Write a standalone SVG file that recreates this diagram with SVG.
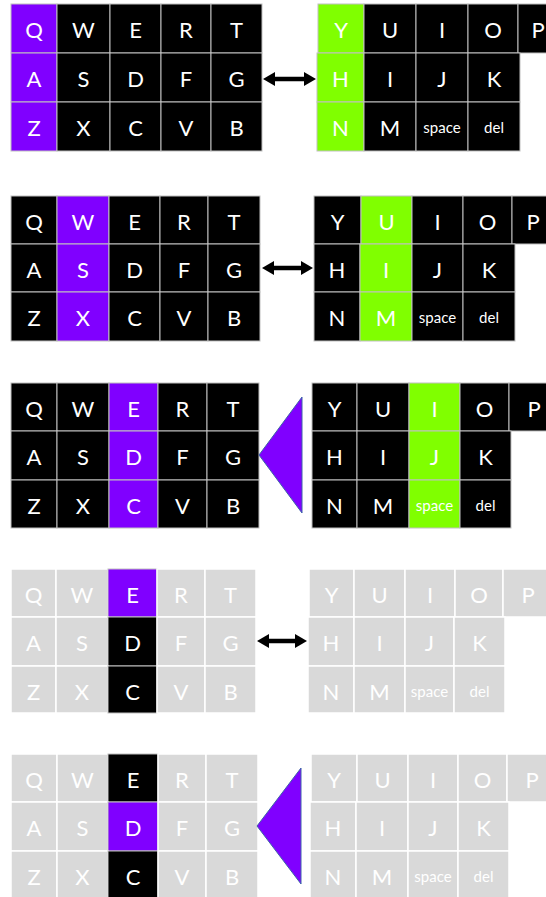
<svg xmlns="http://www.w3.org/2000/svg" width="546" height="897" viewBox="0 0 546 897">
<style>
rect{stroke:#c0c0c0;stroke-width:1}
.b{fill:#000}
.p{fill:#8000ff}
.g{fill:#80ff00}
.y{fill:#d9d9d9;stroke:#fff;stroke-width:1.5}
text{font-family:Lato,'Open Sans',sans-serif;font-size:22px;fill:#fff;text-anchor:middle}
text.s{font-size:15px}
.arr{stroke:#000;stroke-width:4.5;fill:none}
.tri{fill:#8000ff;stroke:#3d64a8;stroke-width:1}
</style>
<defs>
<marker id="ah" viewBox="0 -7 12 14" refX="4" refY="0" markerWidth="12" markerHeight="14" markerUnits="userSpaceOnUse" orient="auto-start-reverse">
<path d="M0,-7 L12,0 L0,7 Z" fill="#000"/>
</marker>
</defs>

<!-- Panel 1 -->
<g id="p1-left">
<g id="p1-Q"><rect class="p" x="11" y="4" width="46" height="49"/><text x="34" y="38">Q</text></g>
<g id="p1-W"><rect class="b" x="57" y="4" width="53" height="49"/><text x="83.5" y="38">W</text></g>
<g id="p1-E"><rect class="b" x="110" y="4" width="51" height="49"/><text x="135.5" y="38">E</text></g>
<g id="p1-R"><rect class="b" x="161" y="4" width="50" height="49"/><text x="186" y="38">R</text></g>
<g id="p1-T"><rect class="b" x="211" y="4" width="51" height="49"/><text x="236.5" y="38">T</text></g>
<g id="p1-A"><rect class="p" x="11" y="53" width="46" height="49"/><text x="34" y="87">A</text></g>
<g id="p1-S"><rect class="b" x="57" y="53" width="53" height="49"/><text x="83.5" y="87">S</text></g>
<g id="p1-D"><rect class="b" x="110" y="53" width="51" height="49"/><text x="135.5" y="87">D</text></g>
<g id="p1-F"><rect class="b" x="161" y="53" width="50" height="49"/><text x="186" y="87">F</text></g>
<g id="p1-G"><rect class="b" x="211" y="53" width="51" height="49"/><text x="236.5" y="87">G</text></g>
<g id="p1-Z"><rect class="p" x="11" y="102" width="46" height="49"/><text x="34" y="136">Z</text></g>
<g id="p1-X"><rect class="b" x="57" y="102" width="53" height="49"/><text x="83.5" y="136">X</text></g>
<g id="p1-C"><rect class="b" x="110" y="102" width="51" height="49"/><text x="135.5" y="136">C</text></g>
<g id="p1-V"><rect class="b" x="161" y="102" width="50" height="49"/><text x="186" y="136">V</text></g>
<g id="p1-B"><rect class="b" x="211" y="102" width="51" height="49"/><text x="236.5" y="136">B</text></g>
</g>
<g id="p1-right">
<g id="p1-Y"><rect class="g" x="318" y="4" width="46" height="49"/><text x="341" y="38">Y</text></g>
<g id="p1-U"><rect class="b" x="364" y="4" width="52" height="49"/><text x="390" y="38">U</text></g>
<g id="p1-I1"><rect class="b" x="416" y="4" width="52" height="49"/><text x="442" y="38">I</text></g>
<g id="p1-O"><rect class="b" x="468" y="4" width="50" height="49"/><text x="493" y="38">O</text></g>
<g id="p1-P"><rect class="b" x="518" y="4" width="52" height="49"/><text x="538" y="38">P</text></g>
<g id="p1-H"><rect class="g" x="317" y="53" width="47" height="49"/><text x="340.5" y="87">H</text></g>
<g id="p1-I2"><rect class="b" x="364" y="53" width="52" height="49"/><text x="390" y="87">I</text></g>
<g id="p1-J"><rect class="b" x="416" y="53" width="52" height="49"/><text x="442" y="87">J</text></g>
<g id="p1-K"><rect class="b" x="468" y="53" width="52" height="49"/><text x="494" y="87">K</text></g>
<g id="p1-N"><rect class="g" x="317" y="102" width="47" height="49"/><text x="340.5" y="136">N</text></g>
<g id="p1-M"><rect class="b" x="364" y="102" width="52" height="49"/><text x="390" y="136">M</text></g>
<g id="p1-space"><rect class="b" x="416" y="102" width="52" height="49"/><text class="s" x="442" y="133">space</text></g>
<g id="p1-del"><rect class="b" x="468" y="102" width="52" height="49"/><text class="s" x="494" y="133">del</text></g>
</g>

<!-- Panel 2 -->
<g id="p2-left">
<g id="p2-Q"><rect class="b" x="11" y="196" width="46" height="48"/><text x="34" y="230">Q</text></g>
<g id="p2-W"><rect class="p" x="57" y="196" width="52" height="48"/><text x="83" y="230">W</text></g>
<g id="p2-E"><rect class="b" x="109" y="196" width="51" height="48"/><text x="134.5" y="230">E</text></g>
<g id="p2-R"><rect class="b" x="160" y="196" width="48" height="48"/><text x="184" y="230">R</text></g>
<g id="p2-T"><rect class="b" x="208" y="196" width="52" height="48"/><text x="234" y="230">T</text></g>
<g id="p2-A"><rect class="b" x="11" y="244" width="46" height="48"/><text x="34" y="278">A</text></g>
<g id="p2-S"><rect class="p" x="57" y="244" width="52" height="48"/><text x="83" y="278">S</text></g>
<g id="p2-D"><rect class="b" x="109" y="244" width="51" height="48"/><text x="134.5" y="278">D</text></g>
<g id="p2-F"><rect class="b" x="160" y="244" width="48" height="48"/><text x="184" y="278">F</text></g>
<g id="p2-G"><rect class="b" x="208" y="244" width="52" height="48"/><text x="234" y="278">G</text></g>
<g id="p2-Z"><rect class="b" x="11" y="292" width="46" height="49"/><text x="34" y="326">Z</text></g>
<g id="p2-X"><rect class="p" x="57" y="292" width="52" height="49"/><text x="83" y="326">X</text></g>
<g id="p2-C"><rect class="b" x="109" y="292" width="51" height="49"/><text x="134.5" y="326">C</text></g>
<g id="p2-V"><rect class="b" x="160" y="292" width="48" height="49"/><text x="184" y="326">V</text></g>
<g id="p2-B"><rect class="b" x="208" y="292" width="52" height="49"/><text x="234" y="326">B</text></g>
</g>
<g id="p2-right">
<g id="p2-Y"><rect class="b" x="314" y="196" width="47" height="48"/><text x="337.5" y="230">Y</text></g>
<g id="p2-U"><rect class="g" x="361" y="196" width="51" height="48"/><text x="386.5" y="230">U</text></g>
<g id="p2-I1"><rect class="b" x="412" y="196" width="51" height="48"/><text x="437.5" y="230">I</text></g>
<g id="p2-O"><rect class="b" x="463" y="196" width="49" height="48"/><text x="487.5" y="230">O</text></g>
<g id="p2-P"><rect class="b" x="512" y="196" width="52" height="48"/><text x="533" y="230">P</text></g>
<g id="p2-H"><rect class="b" x="314" y="244" width="46" height="48"/><text x="337" y="278">H</text></g>
<g id="p2-I2"><rect class="g" x="360" y="244" width="52" height="48"/><text x="386" y="278">I</text></g>
<g id="p2-J"><rect class="b" x="412" y="244" width="51" height="48"/><text x="437.5" y="278">J</text></g>
<g id="p2-K"><rect class="b" x="463" y="244" width="52" height="48"/><text x="489" y="278">K</text></g>
<g id="p2-N"><rect class="b" x="314" y="292" width="46" height="49"/><text x="337" y="326">N</text></g>
<g id="p2-M"><rect class="g" x="360" y="292" width="52" height="49"/><text x="386" y="326">M</text></g>
<g id="p2-space"><rect class="b" x="412" y="292" width="51" height="49"/><text class="s" x="437.5" y="323">space</text></g>
<g id="p2-del"><rect class="b" x="463" y="292" width="52" height="49"/><text class="s" x="489" y="323">del</text></g>
</g>

<!-- Panel 3 -->
<g id="p3-left">
<g id="p3-Q"><rect class="b" x="11" y="383" width="46" height="48"/><text x="34" y="417">Q</text></g>
<g id="p3-W"><rect class="b" x="57" y="383" width="52" height="48"/><text x="83" y="417">W</text></g>
<g id="p3-E"><rect class="p" x="109" y="383" width="49" height="48"/><text x="133.5" y="417">E</text></g>
<g id="p3-R"><rect class="b" x="158" y="383" width="49" height="48"/><text x="182.5" y="417">R</text></g>
<g id="p3-T"><rect class="b" x="207" y="383" width="52" height="48"/><text x="233" y="417">T</text></g>
<g id="p3-A"><rect class="b" x="11" y="431" width="46" height="49"/><text x="34" y="465">A</text></g>
<g id="p3-S"><rect class="b" x="57" y="431" width="52" height="49"/><text x="83" y="465">S</text></g>
<g id="p3-D"><rect class="p" x="109" y="431" width="49" height="49"/><text x="133.5" y="465">D</text></g>
<g id="p3-F"><rect class="b" x="158" y="431" width="49" height="49"/><text x="182.5" y="465">F</text></g>
<g id="p3-G"><rect class="b" x="207" y="431" width="52" height="49"/><text x="233" y="465">G</text></g>
<g id="p3-Z"><rect class="b" x="11" y="480" width="46" height="48"/><text x="34" y="514">Z</text></g>
<g id="p3-X"><rect class="b" x="57" y="480" width="52" height="48"/><text x="83" y="514">X</text></g>
<g id="p3-C"><rect class="p" x="109" y="480" width="49" height="48"/><text x="133.5" y="514">C</text></g>
<g id="p3-V"><rect class="b" x="158" y="480" width="49" height="48"/><text x="182.5" y="514">V</text></g>
<g id="p3-B"><rect class="b" x="207" y="480" width="52" height="48"/><text x="233" y="514">B</text></g>
</g>
<g id="p3-right">
<g id="p3-Y"><rect class="b" x="312" y="383" width="45" height="48"/><text x="334.5" y="417">Y</text></g>
<g id="p3-U"><rect class="b" x="357" y="383" width="52" height="48"/><text x="383" y="417">U</text></g>
<g id="p3-I1"><rect class="g" x="409" y="383" width="51" height="48"/><text x="434.5" y="417">I</text></g>
<g id="p3-O"><rect class="b" x="460" y="383" width="49" height="48"/><text x="484.5" y="417">O</text></g>
<g id="p3-P"><rect class="b" x="509" y="383" width="52" height="48"/><text x="534" y="417">P</text></g>
<g id="p3-H"><rect class="b" x="312" y="431" width="45" height="49"/><text x="334.5" y="465">H</text></g>
<g id="p3-I2"><rect class="b" x="357" y="431" width="52" height="49"/><text x="383" y="465">I</text></g>
<g id="p3-J"><rect class="g" x="409" y="431" width="51" height="49"/><text x="434.5" y="465">J</text></g>
<g id="p3-K"><rect class="b" x="460" y="431" width="51" height="49"/><text x="485.5" y="465">K</text></g>
<g id="p3-N"><rect class="b" x="312" y="480" width="45" height="48"/><text x="334.5" y="514">N</text></g>
<g id="p3-M"><rect class="b" x="357" y="480" width="52" height="48"/><text x="383" y="514">M</text></g>
<g id="p3-space"><rect class="g" x="409" y="480" width="51" height="48"/><text class="s" x="434.5" y="511">space</text></g>
<g id="p3-del"><rect class="b" x="460" y="480" width="51" height="48"/><text class="s" x="485.5" y="511">del</text></g>
</g>

<!-- Panel 4 -->
<g id="p4-left">
<g id="p4-Q"><rect class="y" x="11" y="569" width="45" height="48"/><text x="33.5" y="603">Q</text></g>
<g id="p4-W"><rect class="y" x="56" y="569" width="52" height="48"/><text x="82" y="603">W</text></g>
<g id="p4-E"><rect class="p" x="108" y="569" width="49" height="48"/><text x="132.5" y="603">E</text></g>
<g id="p4-R"><rect class="y" x="157" y="569" width="48" height="48"/><text x="181" y="603">R</text></g>
<g id="p4-T"><rect class="y" x="205" y="569" width="51" height="48"/><text x="230.5" y="603">T</text></g>
<g id="p4-A"><rect class="y" x="11" y="617" width="45" height="49"/><text x="33.5" y="651">A</text></g>
<g id="p4-S"><rect class="y" x="56" y="617" width="52" height="49"/><text x="82" y="651">S</text></g>
<g id="p4-D"><rect class="b" x="108" y="617" width="49" height="49"/><text x="132.5" y="651">D</text></g>
<g id="p4-F"><rect class="y" x="157" y="617" width="48" height="49"/><text x="181" y="651">F</text></g>
<g id="p4-G"><rect class="y" x="205" y="617" width="51" height="49"/><text x="230.5" y="651">G</text></g>
<g id="p4-Z"><rect class="y" x="11" y="666" width="45" height="47"/><text x="33.5" y="700">Z</text></g>
<g id="p4-X"><rect class="y" x="56" y="666" width="52" height="47"/><text x="82" y="700">X</text></g>
<g id="p4-C"><rect class="b" x="108" y="666" width="49" height="47"/><text x="132.5" y="700">C</text></g>
<g id="p4-V"><rect class="y" x="157" y="666" width="48" height="47"/><text x="181" y="700">V</text></g>
<g id="p4-B"><rect class="y" x="205" y="666" width="51" height="47"/><text x="230.5" y="700">B</text></g>
</g>
<g id="p4-right">
<g id="p4-Y"><rect class="y" x="309" y="569" width="45" height="48"/><text x="331.5" y="603">Y</text></g>
<g id="p4-U"><rect class="y" x="354" y="569" width="51" height="48"/><text x="379.5" y="603">U</text></g>
<g id="p4-I1"><rect class="y" x="405" y="569" width="50" height="48"/><text x="430" y="603">I</text></g>
<g id="p4-O"><rect class="y" x="455" y="569" width="48" height="48"/><text x="479" y="603">O</text></g>
<g id="p4-P"><rect class="y" x="503" y="569" width="52" height="48"/><text x="528" y="603">P</text></g>
<g id="p4-H"><rect class="y" x="308" y="617" width="46" height="49"/><text x="331" y="651">H</text></g>
<g id="p4-I2"><rect class="y" x="354" y="617" width="51" height="49"/><text x="379.5" y="651">I</text></g>
<g id="p4-J"><rect class="y" x="405" y="617" width="49" height="49"/><text x="429.5" y="651">J</text></g>
<g id="p4-K"><rect class="y" x="454" y="617" width="51" height="49"/><text x="479.5" y="651">K</text></g>
<g id="p4-N"><rect class="y" x="308" y="666" width="46" height="47"/><text x="331" y="700">N</text></g>
<g id="p4-M"><rect class="y" x="354" y="666" width="51" height="47"/><text x="379.5" y="700">M</text></g>
<g id="p4-space"><rect class="y" x="405" y="666" width="49" height="47"/><text class="s" x="429.5" y="697">space</text></g>
<g id="p4-del"><rect class="y" x="454" y="666" width="51" height="47"/><text class="s" x="479.5" y="697">del</text></g>
</g>

<!-- Panel 5 -->
<g id="p5-left">
<g id="p5-Q"><rect class="y" x="11" y="754" width="46" height="48"/><text x="34" y="788">Q</text></g>
<g id="p5-W"><rect class="y" x="57" y="754" width="51" height="48"/><text x="82.5" y="788">W</text></g>
<g id="p5-E"><rect class="b" x="108" y="754" width="50" height="48"/><text x="133" y="788">E</text></g>
<g id="p5-R"><rect class="y" x="158" y="754" width="48" height="48"/><text x="182" y="788">R</text></g>
<g id="p5-T"><rect class="y" x="206" y="754" width="52" height="48"/><text x="232" y="788">T</text></g>
<g id="p5-A"><rect class="y" x="11" y="802" width="46" height="49"/><text x="34" y="836">A</text></g>
<g id="p5-S"><rect class="y" x="57" y="802" width="51" height="49"/><text x="82.5" y="836">S</text></g>
<g id="p5-D"><rect class="p" x="108" y="802" width="50" height="49"/><text x="133" y="836">D</text></g>
<g id="p5-F"><rect class="y" x="158" y="802" width="48" height="49"/><text x="182" y="836">F</text></g>
<g id="p5-G"><rect class="y" x="206" y="802" width="52" height="49"/><text x="232" y="836">G</text></g>
<g id="p5-Z"><rect class="y" x="11" y="851" width="46" height="48"/><text x="34" y="885">Z</text></g>
<g id="p5-X"><rect class="y" x="57" y="851" width="51" height="48"/><text x="82.5" y="885">X</text></g>
<g id="p5-C"><rect class="b" x="108" y="851" width="50" height="48"/><text x="133" y="885">C</text></g>
<g id="p5-V"><rect class="y" x="158" y="851" width="48" height="48"/><text x="182" y="885">V</text></g>
<g id="p5-B"><rect class="y" x="206" y="851" width="52" height="48"/><text x="232" y="885">B</text></g>
</g>
<g id="p5-right">
<g id="p5-Y"><rect class="y" x="311" y="754" width="46" height="48"/><text x="334" y="788">Y</text></g>
<g id="p5-U"><rect class="y" x="357" y="754" width="51" height="48"/><text x="382.5" y="788">U</text></g>
<g id="p5-I1"><rect class="y" x="408" y="754" width="50" height="48"/><text x="433" y="788">I</text></g>
<g id="p5-O"><rect class="y" x="458" y="754" width="49" height="48"/><text x="482.5" y="788">O</text></g>
<g id="p5-P"><rect class="y" x="507" y="754" width="52" height="48"/><text x="532" y="788">P</text></g>
<g id="p5-H"><rect class="y" x="310" y="802" width="46" height="49"/><text x="333" y="836">H</text></g>
<g id="p5-I2"><rect class="y" x="356" y="802" width="52" height="49"/><text x="382" y="836">I</text></g>
<g id="p5-J"><rect class="y" x="408" y="802" width="50" height="49"/><text x="433" y="836">J</text></g>
<g id="p5-K"><rect class="y" x="458" y="802" width="51" height="49"/><text x="483.5" y="836">K</text></g>
<g id="p5-N"><rect class="y" x="310" y="851" width="46" height="48"/><text x="333" y="885">N</text></g>
<g id="p5-M"><rect class="y" x="356" y="851" width="52" height="48"/><text x="382" y="885">M</text></g>
<g id="p5-space"><rect class="y" x="408" y="851" width="50" height="48"/><text class="s" x="433" y="882">space</text></g>
<g id="p5-del"><rect class="y" x="458" y="851" width="51" height="48"/><text class="s" x="483.5" y="882">del</text></g>
</g>

<!-- Connectors -->
<g id="connectors">
<line class="arr" x1="271" y1="79" x2="308" y2="79" marker-start="url(#ah)" marker-end="url(#ah)"/>
<line class="arr" x1="270" y1="268" x2="305" y2="268" marker-start="url(#ah)" marker-end="url(#ah)"/>
<polygon class="tri" points="259,455 302,397 302,513"/>
<line class="arr" x1="265" y1="641" x2="299" y2="641" marker-start="url(#ah)" marker-end="url(#ah)"/>
<polygon class="tri" points="257,826 301,768 301,884"/>
</g>
</svg>
